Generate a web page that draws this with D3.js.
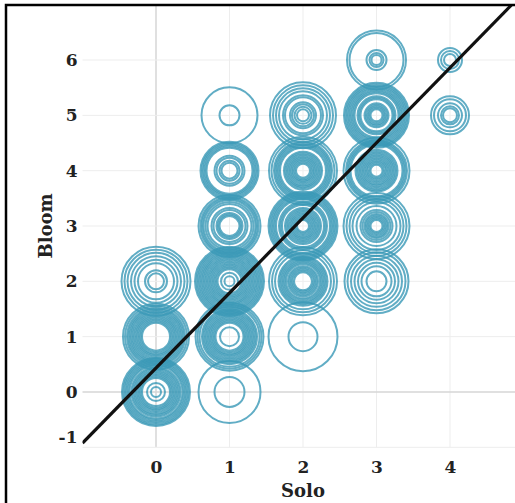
<!DOCTYPE html>
<html>
<head>
<meta charset="utf-8">
<script src="https://cdn.jsdelivr.net/npm/d3@7"></script>
<style>
  body { margin: 0; background: #fff; }
  svg { display: block; }
  .tick text { font-family: "DejaVu Serif", serif; font-weight: bold; font-size: 17px; fill: #222; }
  .label { font-family: "DejaVu Serif", serif; font-weight: bold; font-size: 18px; fill: #222; }
</style>
</head>
<body>
<script>
// data: one cluster per (solo, bloom) pair, each ring is one observation's marker size
let solo  = [0, 0, 0, 1, 1, 1, 1, 1, 1, 2, 2, 2, 2, 2, 3, 3, 3, 3, 3, 4, 4];
let bloom = [0, 1, 2, 0, 1, 2, 3, 4, 5, 1, 2, 3, 4, 5, 2, 3, 4, 5, 6, 5, 6];
let ringSizes = [
  [10, 18, 28, 31, 34, 37, 40, 43, 46, 49, 53, 56, 59, 62, 65, 68],
  [28, 31, 34, 37, 40, 43, 46, 49, 52, 55, 58, 62, 66],
  [16, 22, 36, 43, 50, 57, 63, 69],
  [30, 62],
  [19, 28, 31, 34, 37, 40, 43, 46, 49, 52, 55, 60, 64, 68],
  [10, 17, 24, 27, 30, 33, 36, 39, 42, 45, 48, 51, 54, 57, 60, 63, 66, 69],
  [20, 23, 26, 32, 36, 44, 48, 52, 55, 58, 62],
  [16, 20, 26, 30, 46, 49, 52, 55, 58],
  [20, 56],
  [29, 69],
  [18, 21, 24, 27, 30, 34, 37, 40, 43, 46, 49, 56, 62, 68],
  [12, 15, 18, 21, 24, 27, 30, 33, 36, 42, 45, 48, 54, 57, 60, 63, 66, 69],
  [14, 17, 20, 23, 26, 29, 32, 35, 38, 46, 49, 52, 55, 58, 63, 68],
  [12, 17, 22, 26, 36, 40, 48, 54, 60, 66],
  [20, 30, 37, 44, 51, 58, 64],
  [12, 15, 18, 21, 24, 28, 32, 40, 48, 54, 60, 66],
  [12, 15, 18, 21, 24, 27, 30, 33, 36, 39, 42, 52, 55, 58, 61, 66],
  [12, 15, 18, 21, 24, 32, 35, 38, 44, 47, 50, 53, 56, 59, 62, 65],
  [10, 14, 20, 54, 59],
  [14, 18, 24, 32, 38],
  [12, 18, 24]
];
let fitSlope = 1.357, fitIntercept = 0.433;
let xTicks = [0, 1, 2, 3, 4];
let yTicks = [-1, 0, 1, 2, 3, 4, 5, 6];

let W = 515, H = 503;
let svg = d3.select("body").append("svg").attr("width", W).attr("height", H);

let x = d3.scaleLinear().domain([-1, 5]).range([82.5, 523.5]);
let y = d3.scaleLinear().domain([-1, 7]).range([447.3, 4.7]);
let r = d3.scaleLinear().domain([0, 70]).range([0, 35]);

svg.append("clipPath").attr("id", "plot")
  .append("rect")
  .attr("x", x(-1)).attr("y", y(7))
  .attr("width", x(5) - x(-1)).attr("height", y(-1) - y(7));

// grid
let grid = svg.append("g");
grid.selectAll("line.v").data(xTicks).enter().append("line")
  .attr("x1", d => x(d)).attr("x2", d => x(d))
  .attr("y1", y(7)).attr("y2", y(-1))
  .attr("stroke", d => d === 0 ? "#d6d6d6" : "#ededed")
  .attr("stroke-width", d => d === 0 ? 1.5 : 1);
grid.selectAll("line.h").data(yTicks).enter().append("line")
  .attr("x1", x(-1)).attr("x2", x(5))
  .attr("y1", d => y(d)).attr("y2", d => y(d))
  .attr("stroke", d => d === 0 ? "#d6d6d6" : "#ededed")
  .attr("stroke-width", d => d === 0 ? 1.5 : 1);

// rings
let rings = [];
ringSizes.forEach(function(list, i) {
  list.forEach(function(s) { rings.push({solo: solo[i], bloom: bloom[i], size: s}); });
});

svg.append("g").attr("clip-path", "url(#plot)")
  .selectAll("circle").data(rings).enter().append("circle")
  .attr("cx", d => x(d.solo))
  .attr("cy", d => y(d.bloom))
  .attr("r", d => r(d.size))
  .attr("fill", "none")
  .attr("stroke", "#3a98b6")
  .attr("stroke-opacity", 0.8)
  .attr("stroke-width", 2);

// fit line
svg.append("line").attr("clip-path", "url(#plot)")
  .attr("x1", x(-1)).attr("y1", y(fitIntercept - fitSlope))
  .attr("x2", x(5)).attr("y2", y(fitIntercept + 5 * fitSlope))
  .attr("stroke", "#111").attr("stroke-width", 3.2);

// axes (labels only)
let fmt = d => String(d);
let xAxis = svg.append("g").attr("transform", "translate(0," + y(-1) + ")")
  .call(d3.axisBottom(x).tickValues(xTicks).tickFormat(fmt).tickSize(0).tickPadding(14));
xAxis.select(".domain").remove();

let yAxis = svg.append("g").attr("transform", "translate(" + x(-1) + ",0)")
  .call(d3.axisLeft(y).tickValues(yTicks).tickFormat(fmt).tickSize(0).tickPadding(5));
yAxis.select(".domain").remove();
// bottom label sits a little above its gridline, as in the original
yAxis.selectAll(".tick text").filter(d => d === -1).attr("y", -10);

svg.append("text").attr("class", "label")
  .attr("x", x(2)).attr("y", 497)
  .style("text-anchor", "middle")
  .text("Solo");

svg.append("text").attr("class", "label")
  .attr("transform", "translate(52," + y(3) + ") rotate(-90)")
  .style("text-anchor", "middle")
  .text("Bloom");

// frame
svg.append("rect")
  .attr("x", 6).attr("y", 5)
  .attr("width", 530).attr("height", 520)
  .attr("fill", "none").attr("stroke", "#000").attr("stroke-width", 2.5);
</script>
</body>
</html>
